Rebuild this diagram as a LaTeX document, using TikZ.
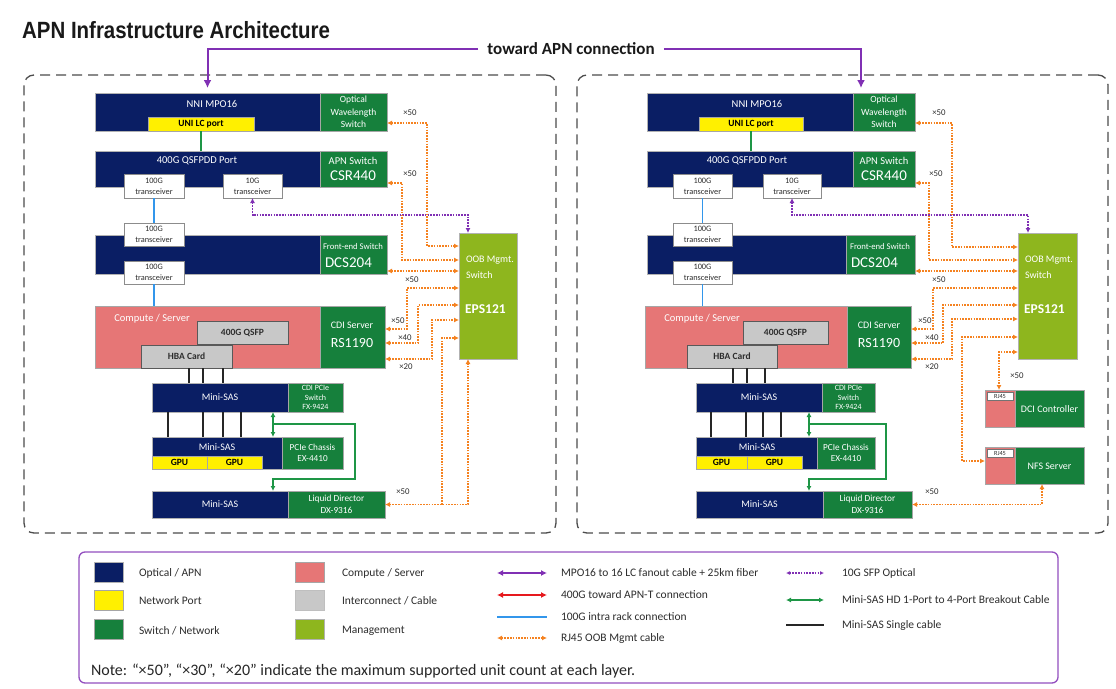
\documentclass[tikz,border=0pt]{standalone}
\usepackage{fontspec}
\usepackage{graphicx}
\setmainfont{Carlito}
\newfontfamily\titlefont{Liberation Sans}
\usetikzlibrary{arrows.meta}
\definecolor{navyc}{RGB}{10,30,100}
\definecolor{grnc}{RGB}{22,128,60}
\definecolor{ylwc}{RGB}{255,240,0}
\definecolor{pinkc}{RGB}{230,118,118}
\definecolor{grayc}{RGB}{200,200,200}
\definecolor{limec}{RGB}{142,182,30}
\definecolor{orc}{RGB}{245,130,32}
\definecolor{purc}{RGB}{128,48,180}
\definecolor{bluec}{RGB}{50,150,235}
\definecolor{gac}{RGB}{30,150,70}
\definecolor{redc}{RGB}{230,25,30}
\definecolor{txtc}{RGB}{45,45,45}
\newcommand\fs[2]{\fontsize{#1}{#2}\selectfont}
\newcommand\blk[7]{\node[#6, minimum width={(#4-#2)*1pt}, minimum height={(#5-#3)*1pt}] (#1) at ({(#2+#4)/2},{(#3+#5)/2}) {#7};}
\tikzset{
 blkbase/.style={rectangle, inner sep=0pt, outer sep=0pt, line width=0.6pt, align=center},
 navyblk/.style={blkbase, fill=navyc, draw=black!30, text=white, font=\fs{10}{12}},
 greenblk/.style={blkbase, fill=grnc, draw=black!35, text=white},
 ylwblk/.style={blkbase, fill=ylwc, draw=black!35, text=black, font=\bfseries\fs{9.5}{11}},
 pinkblk/.style={blkbase, fill=pinkc, draw=black!35},
 grayblk/.style={blkbase, fill=grayc, draw=black!65, line width=0.9pt, text=txtc, font=\bfseries\fs{9.5}{11}},
 limeblk/.style={blkbase, fill=limec, draw=black!30},
 whtbox/.style={blkbase, fill=white, draw=black!45, line width=0.8pt, text=txtc, font=\fs{8.3}{11}},
 rjbox/.style={blkbase, fill=white, draw=black!55, line width=0.5pt, text=txtc, font=\fs{6.3}{7}},
 panel/.style={blkbase, draw=black!70, line width=1.3pt, dash pattern=on 10pt off 6pt, rounded corners=10pt},
 lbl/.style={inner sep=0pt, outer sep=0pt, text=white},
 xlbl/.style={inner sep=0pt, outer sep=0pt, text=txtc, font=\fs{8.8}{10}},
 lgt/.style={inner sep=0pt, outer sep=0pt, anchor=west, text=txtc, font=\fs{11.5}{13}},
 oobc/.style={draw=orc, line width=1.3pt, dash pattern=on 1.6pt off 1.2pt, <->, >={Latex[length=5pt,width=5pt]}},
 oobone/.style={draw=orc, line width=1.3pt, dash pattern=on 1.6pt off 1.2pt, ->, >={Latex[length=5pt,width=5pt]}},
 sfpc/.style={draw=purc, line width=1.3pt, dash pattern=on 1.6pt off 1.2pt, <->, >={Latex[length=5pt,width=5pt]}},
 apnc/.style={draw=purc, line width=2pt, ->, >={Latex[length=8pt,width=8pt]}},
 bluel/.style={draw=bluec, line width=1.3pt},
 greenl/.style={draw=gac, line width=1.1pt},
 sasl/.style={draw=black!85, line width=1.3pt},
 brk/.style={draw=gac, line width=1.3pt, >={Latex[length=5pt,width=5pt]}},
}
\begin{document}
\begin{tikzpicture}[x=1pt,y=-1pt]
\useasboundingbox (0,0) rectangle (1116,688);
\fill[white] (0,0) rectangle (1116,688);

% title
\node[anchor=base west, inner sep=0pt, text=black!90] (title) at (22,38) {\titlefont\bfseries\fs{23.5}{26}\scalebox{0.87}[1]{APN Infrastructure Architecture}};
\node[inner sep=0pt, text=black!90, font=\bfseries\fs{17}{19}] (toward) at (571,49) {toward APN connection};

% panels
\blk{panelL}{24}{75}{556}{533}{panel}{}
\blk{panelR}{577}{75}{1108}{533}{panel}{}

% ================= LEFT PANEL =================
\blk{nniL}{95}{93}{320}{131}{navyblk}{}
\node[lbl, font=\fs{10.5}{12}] (tnniL) at (212,104) {NNI MPO16};
\blk{owsL}{320}{93}{387}{131}{greenblk, font=\fs{9.5}{12.5}}{Optical\\Wavelength\\Switch}
\blk{uniL}{148}{117}{254}{131}{ylwblk}{UNI LC port}
\blk{qsfpddL}{95}{151}{320}{187}{navyblk}{}
\node[lbl, font=\fs{10.5}{12}] (tqL) at (197,161) {400G QSFPDD Port};
\blk{apnL}{320}{151}{387}{187}{greenblk}{}
\node[lbl, font=\fs{10.5}{12}] (tapnL) at (353,161) {APN Switch};
\node[lbl, font=\fs{15}{16}] (tcsrL) at (353,176) {CSR440};
\blk{feL}{95}{235}{320}{274}{navyblk}{}
\blk{dcsL}{320}{235}{387}{274}{greenblk}{}
\node[lbl, anchor=west, font=\fs{8.7}{10}] (tfeL) at (323,247) {Front-end Switch};
\node[lbl, anchor=west, font=\fs{15}{16}] (tdcsL) at (325,263) {DCS204};
\blk{t100aL}{124}{174}{184}{198}{whtbox}{100G\\transceiver}
\blk{t10L}{223}{174}{282}{198}{whtbox}{10G\\transceiver}
\blk{t100bL}{124}{223}{184}{246}{whtbox}{100G\\transceiver}
\blk{t100cL}{124}{261}{184}{284}{whtbox}{100G\\transceiver}
\blk{compL}{95}{306}{320}{368}{pinkblk}{}
\node[lbl, font=\fs{10.5}{12}] (tcompL) at (152,319) {Compute / Server};
\blk{cdiL}{320}{306}{385}{368}{greenblk}{}
\node[lbl, font=\fs{10}{12}] (tcdiL) at (352,325) {CDI Server};
\node[lbl, font=\fs{14}{15}] (trsL) at (352,343) {RS1190};
\blk{q400L}{197}{321}{288}{344}{grayblk}{400G QSFP}
\blk{hbaL}{141}{345}{232}{368}{grayblk}{HBA Card}
\blk{ms1L}{152}{383}{288}{412}{navyblk}{Mini-SAS}
\blk{pcsL}{288}{383}{343}{412}{greenblk, font=\fs{8}{9.3}}{CDI PCIe\\Switch\\FX-9424}
\blk{ms2L}{152}{437}{282}{469}{navyblk}{}
\node[lbl, font=\fs{10}{12}] (tms2L) at (217,447) {Mini-SAS};
\blk{pchL}{282}{437}{343}{469}{greenblk, font=\fs{9.2}{11.5}}{PCIe Chassis\\EX-4410}
\blk{gpu1L}{152}{456}{207}{469}{ylwblk}{GPU}
\blk{gpu2L}{207}{456}{262}{469}{ylwblk}{GPU}
\blk{ms3L}{152}{491}{288}{518}{navyblk}{Mini-SAS}
\blk{ldL}{288}{491}{385}{518}{greenblk, font=\fs{9.3}{12}}{Liquid Director\\DX-9316}
\blk{oobL}{459}{233}{517}{359}{limeblk}{}
\node[lbl, anchor=west, font=\fs{10}{12}] (toobL1) at (466,260) {OOB Mgmt.};
\node[lbl, anchor=west, font=\fs{10}{12}] (toobL2) at (466,275) {Switch};
\node[lbl, anchor=west, font=\bfseries\fs{13.5}{15}] (toobL3) at (465,309) {EPS121};

% left connectors
\draw[greenl] (uniL.south) -- (uniL.south |- qsfpddL.north);
\draw[bluel] (t100aL.south) -- (t100bL.north);
\draw[bluel] (t100cL.south) -- (t100cL.south |- compL.north);
\foreach \x in {189,203,223} \draw[sasl] (\x,0 |- hbaL.south) -- (\x,0 |- ms1L.north);
\foreach \x in {168,203,223,241} \draw[sasl] (\x,0 |- ms1L.south) -- (\x,0 |- ms2L.north);
\draw[brk, <->] (273,0 |- ms1L.south) -- (273,0 |- ms2L.north);
\coordinate (brkL) at (273,424);
\draw[brk, ->] (brkL) -| (355,479) -| (273,0 |- ms3L.north);
\draw[sfpc] (t10L.south) |- (468,215) -- ([xshift=-20pt]oobL.north);
\draw[oobc] ([yshift=8pt]owsL.south east) -- (427,123) |- ([yshift=-13pt]oobL.north west);
\draw[oobc] ([yshift=4pt]apnL.south east) -- (402,183) |- ([yshift=-27pt]oobL.north west);
\draw[oobc] ([yshift=3pt]dcsL.south east) -- ([yshift=-38pt]oobL.north west);
\draw[oobc] ([yshift=39pt]cdiL.south east) -- (407,329) |- ([yshift=-55pt]oobL.north west);
\draw[oobc] ([yshift=25pt]cdiL.south east) -- (418,343) |- ([yshift=-72pt]oobL.north west);
\draw[oobc] ([yshift=9pt]cdiL.south east) -- (432,359) |- ([yshift=-87pt]oobL.north west);
\draw[oobc] (ldL.east) -- (468,504.5) -- ([xshift=-20pt]oobL.south);
\coordinate (ldjL) at (442,504.5);
\draw[oobone] (ldjL) |- ([yshift=-105pt]oobL.north west);
\node[xlbl] (xa1L) at (410,113) {×50};
\node[xlbl] (xa2L) at (410,174) {×50};
\node[xlbl] (xa3L) at (412,280) {×50};
\node[xlbl] (xa4L) at (398,321) {×50};
\node[xlbl] (xa5L) at (405,338) {×40};
\node[xlbl] (xa6L) at (406,367) {×20};
\node[xlbl] (xa7L) at (403,492) {×50};

% ================= RIGHT PANEL =================
\blk{nniR}{647}{93}{853}{131}{navyblk}{}
\node[lbl, font=\fs{10.5}{12}] (tnniR) at (757,104) {NNI MPO16};
\blk{owsR}{853}{93}{915}{131}{greenblk, font=\fs{9.5}{12.5}}{Optical\\Wavelength\\Switch}
\blk{uniR}{699}{117}{803}{131}{ylwblk}{UNI LC port}
\blk{qsfpddR}{647}{151}{853}{187}{navyblk}{}
\node[lbl, font=\fs{10.5}{12}] (tqR) at (747,161) {400G QSFPDD Port};
\blk{apnR}{853}{151}{915}{187}{greenblk}{}
\node[lbl, font=\fs{10.5}{12}] (tapnR) at (884,161) {APN Switch};
\node[lbl, font=\fs{15}{16}] (tcsrR) at (884,176) {CSR440};
\blk{feR}{647}{235}{846}{274}{navyblk}{}
\blk{dcsR}{846}{235}{915}{274}{greenblk}{}
\node[lbl, anchor=west, font=\fs{8.7}{10}] (tfeR) at (850,247) {Front-end Switch};
\node[lbl, anchor=west, font=\fs{15}{16}] (tdcsR) at (851,263) {DCS204};
\blk{t100aR}{673}{174}{732}{198}{whtbox}{100G\\transceiver}
\blk{t10R}{763}{174}{821}{198}{whtbox}{10G\\transceiver}
\blk{t100bR}{673}{223}{732}{246}{whtbox}{100G\\transceiver}
\blk{t100cR}{673}{261}{732}{284}{whtbox}{100G\\transceiver}
\blk{compR}{645}{306}{847}{368}{pinkblk}{}
\node[lbl, font=\fs{10.5}{12}] (tcompR) at (702,319) {Compute / Server};
\blk{cdiR}{847}{306}{911}{368}{greenblk}{}
\node[lbl, font=\fs{10}{12}] (tcdiR) at (879,325) {CDI Server};
\node[lbl, font=\fs{14}{15}] (trsR) at (879,343) {RS1190};
\blk{q400R}{743}{321}{828}{344}{grayblk}{400G QSFP}
\blk{hbaR}{687}{345}{777}{368}{grayblk}{HBA Card}
\blk{ms1R}{696}{383}{822}{412}{navyblk}{Mini-SAS}
\blk{pcsR}{822}{383}{875}{412}{greenblk, font=\fs{8}{9.3}}{CDI PCIe\\Switch\\FX-9424}
\blk{ms2R}{696}{437}{817}{469}{navyblk}{}
\node[lbl, font=\fs{10}{12}] (tms2R) at (757,447) {Mini-SAS};
\blk{pchR}{817}{437}{875}{469}{greenblk, font=\fs{9.2}{11.5}}{PCIe Chassis\\EX-4410}
\blk{gpu1R}{696}{456}{747}{469}{ylwblk}{GPU}
\blk{gpu2R}{747}{456}{802}{469}{ylwblk}{GPU}
\blk{ms3R}{696}{491}{823}{518}{navyblk}{Mini-SAS}
\blk{ldR}{823}{491}{912}{518}{greenblk, font=\fs{9.3}{12}}{Liquid Director\\DX-9316}
\blk{oobR}{1018}{233}{1077}{359}{limeblk}{}
\node[lbl, anchor=west, font=\fs{10}{12}] (toobR1) at (1025,260) {OOB Mgmt.};
\node[lbl, anchor=west, font=\fs{10}{12}] (toobR2) at (1025,275) {Switch};
\node[lbl, anchor=west, font=\bfseries\fs{13.5}{15}] (toobR3) at (1024,309) {EPS121};
\blk{dciR}{985}{390}{1084}{427}{greenblk}{}
\blk{dcipR}{985}{390}{1015}{427}{pinkblk}{}
\blk{rjaR}{987}{392}{1013}{400}{rjbox}{RJ45}
\node[lbl, font=\fs{10}{12}] (tdciR) at (1049.5,409) {DCI Controller};
\blk{nfsR}{985}{447}{1084}{484}{greenblk}{}
\blk{nfspR}{985}{447}{1015}{484}{pinkblk}{}
\blk{rjbR}{987}{449}{1013}{457}{rjbox}{RJ45}
\node[lbl, font=\fs{10}{12}] (tnfsR) at (1049.5,466) {NFS Server};

% right connectors
\draw[greenl] (uniR.south) -- (uniR.south |- qsfpddR.north);
\draw[bluel] (t100aR.south) -- (t100bR.north);
\draw[bluel] (t100cR.south) -- (t100cR.south |- compR.north);
\foreach \x in {733,747,765} \draw[sasl] (\x,0 |- hbaR.south) -- (\x,0 |- ms1R.north);
\foreach \x in {711,746,763,781} \draw[sasl] (\x,0 |- ms1R.south) -- (\x,0 |- ms2R.north);
\draw[brk, <->] (809,0 |- ms1R.south) -- (809,0 |- ms2R.north);
\coordinate (brkR) at (809,424);
\draw[brk, ->] (brkR) -| (886,479) -| (809,0 |- ms3R.north);
\draw[sfpc] (t10R.south) |- (1028,215) -- ([xshift=-19.5pt]oobR.north);
\draw[oobc] ([yshift=8pt]owsR.south east) -- (952,123) |- ([yshift=-14pt]oobR.north west);
\draw[oobc] ([yshift=4pt]apnR.south east) -- (929,183) |- ([yshift=-27pt]oobR.north west);
\draw[oobc] ([yshift=3pt]dcsR.south east) -- ([yshift=-38pt]oobR.north west);
\draw[oobc] ([yshift=39pt]cdiR.south east) -- (933,329) |- ([yshift=-55pt]oobR.north west);
\draw[oobc] ([yshift=25pt]cdiR.south east) -- (943,343) |- ([yshift=-72pt]oobR.north west);
\draw[oobc] ([yshift=9pt]cdiR.south east) -- (952,359) |- ([yshift=-86pt]oobR.north west);
\draw[oobc] ([yshift=-104pt]oobR.north west) -- (962,337) |- ([yshift=23pt]nfsR.south west);
\draw[oobc] ([yshift=-119pt]oobR.north west) -- (999,352) -- (999,0 |- dciR.north);
\draw[oobc] (ldR.east) -- (1042,504.5) -- (1042,0 |- nfsR.south);
\node[xlbl] (xa1R) at (939,113) {×50};
\node[xlbl] (xa2R) at (936,174) {×50};
\node[xlbl] (xa3R) at (939,280) {×50};
\node[xlbl] (xa4R) at (925,321) {×50};
\node[xlbl] (xa5R) at (932,338) {×40};
\node[xlbl] (xa6R) at (932,367) {×20};
\node[xlbl] (xa7R) at (1017,376) {×50};
\node[xlbl] (xa8R) at (932,492) {×50};

% toward APN arrows
\draw[apnc] ([xshift=-9pt]toward.west) -| ([yshift=5pt]nniL.north);
\draw[apnc] ([xshift=9pt]toward.east) -| ([xshift=8pt,yshift=5pt]nniR.north east);

% ================= LEGEND =================
\blk{legend}{79}{552}{1058}{683}{blkbase, draw=purc!85, line width=1.3pt, rounded corners=6pt}{}
\blk{lgs1}{94}{562}{123}{582}{navyblk}{}
\blk{lgs2}{94}{590}{123}{610}{ylwblk}{}
\blk{lgs3}{94}{619}{123}{639}{greenblk}{}
\blk{lgs4}{295}{562}{324}{582}{pinkblk}{}
\blk{lgs5}{295}{590}{324}{610}{blkbase, fill=grayc, draw=black!25}{}
\blk{lgs6}{295}{619}{324}{639}{limeblk}{}
\node[lgt] (lgt1) at (139,573) {Optical / APN};
\node[lgt] (lgt2) at (139,601) {Network Port};
\node[lgt] (lgt3) at (139,631) {Switch / Network};
\node[lgt] (lgt4) at (342,573) {Compute / Server};
\node[lgt] (lgt5) at (342,601) {Interconnect / Cable};
\node[lgt] (lgt6) at (342,631) {Management};
\coordinate (la1) at (497,573); \coordinate (lb1) at (547,573);
\coordinate (la2) at (497,595); \coordinate (lb2) at (547,595);
\coordinate (la3) at (497,617); \coordinate (lb3) at (547,617);
\coordinate (la4) at (497,638); \coordinate (lb4) at (547,638);
\coordinate (la5) at (786,573); \coordinate (lb5) at (824,573);
\coordinate (la6) at (786,600); \coordinate (lb6) at (824,600);
\coordinate (la7) at (786,625); \coordinate (lb7) at (824,625);
\draw[draw=purc, line width=1.8pt, <->, >={Latex[length=6pt,width=6pt]}] (la1) -- (lb1);
\draw[draw=redc, line width=1.8pt, <->, >={Latex[length=6pt,width=6pt]}] (la2) -- (lb2);
\draw[bluel, line width=1.6pt] (la3) -- (lb3);
\draw[oobc] (la4) -- (lb4);
\draw[sfpc, line width=1.1pt, >={Latex[length=4pt,width=4pt]}] (la5) -- (lb5);
\draw[brk, line width=1.5pt, <->] (la6) -- (lb6);
\draw[sasl, line width=1.6pt] (la7) -- (lb7);
\node[lgt] (lgt7) at (561,573) {MPO16 to 16 LC fanout cable + 25km fiber};
\node[lgt] (lgt8) at (561,595) {400G toward APN-T connection};
\node[lgt] (lgt9) at (561,617) {100G intra rack connection};
\node[lgt] (lgt10) at (561,638) {RJ45 OOB Mgmt cable};
\node[lgt] (lgt11) at (842,573) {10G SFP Optical};
\node[lgt] (lgt12) at (842,600) {Mini-SAS HD 1-Port to 4-Port Breakout Cable};
\node[lgt] (lgt13) at (842,625) {Mini-SAS Single cable};
\node[lgt, font=\fs{16}{18}, text=black!85] (note) at (91,671) {Note: “×50”, “×30”, “×20” indicate the maximum supported unit count at each layer.};
\end{tikzpicture}
\end{document}
